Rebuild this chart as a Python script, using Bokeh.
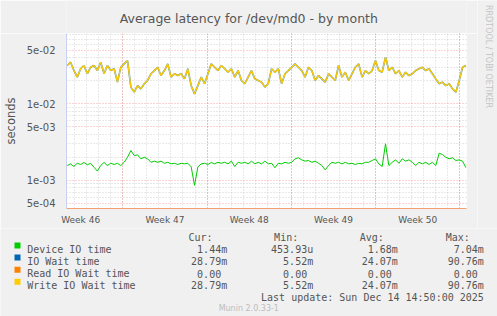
import math
from bokeh.plotting import figure
from bokeh.layouts import column, row
from bokeh.models import Range1d, FixedTicker, CustomJSTickFormatter
from bokeh.core.properties import value
from bokeh.embed import file_html
from bokeh.resources import INLINE

# ---------------- data ----------------
title_text = "Average latency for /dev/md0 - by month"
y_axis_label = "seconds"

# x axis: days since Mon 10 Nov 2025 00:00 (start of ISO week 46)
week_labels = ["Week 46", "Week 47", "Week 48", "Week 49", "Week 50"]
week_centers = [3.5, 10.5, 17.5, 24.5, 31.5]
week_starts = [7, 14, 21, 28, 35]
day_marks = list(range(3, 36))
x_start, x_end = 2.324, 35.547

# y axis (log)
y_major = [5e-4, 1e-3, 5e-3, 1e-2, 5e-2]
y_minor = [6e-4, 7e-4, 8e-4, 9e-4, 2e-3, 3e-3, 4e-3, 6e-3, 7e-3, 8e-3, 9e-3,
           2e-2, 3e-2, 4e-2, 6e-2, 7e-2, 8e-2]
y_low, y_high = 4.28e-4, 0.083

# samples (regular step), values in milliseconds
t_first = 2.382
t_step = 0.2783

device_io_ms = [
    1.56, 1.64, 1.515, 1.67, 1.61, 1.71, 1.595, 1.67, 1.48, 1.32,
    1.56, 1.71, 1.56, 1.67, 1.61, 1.67, 1.56, 1.72, 2.00, 2.45,
    2.11, 2.15, 1.91, 2.00, 1.91, 1.72, 1.78, 1.72, 1.78, 1.67,
    1.72, 1.64, 1.67, 1.61, 1.67, 1.64, 1.67, 1.50, 0.86, 1.50,
    1.64, 1.67, 1.61, 1.71, 1.64, 1.72, 1.67, 1.72, 1.64, 1.78,
    1.515, 1.72, 1.67, 1.72, 1.64, 1.78, 1.64, 1.72, 1.64, 1.78,
    1.64, 1.67, 1.46, 1.67, 1.64, 1.72, 1.67, 1.72, 1.91, 1.97,
    1.85, 1.78, 1.815, 1.72, 1.78, 1.67, 1.56, 1.37, 1.56, 1.72,
    1.67, 1.72, 1.64, 1.72, 1.64, 1.67, 1.61, 1.67, 1.64, 1.72,
    1.72, 1.815, 1.91, 1.64, 1.515, 3.0, 1.56, 1.72, 1.85, 1.67,
    1.91, 1.78, 1.85, 1.72, 1.56, 1.72, 1.64, 1.72, 1.61, 1.72,
    1.56, 2.26, 2.175, 2.0, 1.91, 1.97, 1.815, 1.85, 1.78, 1.46,
]

write_io_wait_ms = [
    31.7, 35.0, 27.2, 22.3, 28.7, 31.7, 24.7, 30.1, 31.7, 27.2,
    35.0, 24.7, 31.7, 27.2, 28.7, 19.2, 30.1, 33.3, 36.8, 16.5,
    14.2, 17.3, 15.7, 18.3, 20.2, 24.7, 27.2, 30.1, 23.4, 27.2,
    33.3, 22.3, 24.7, 23.4, 24.7, 21.2, 28.7, 17.3, 13.5, 17.3,
    22.3, 18.3, 24.7, 33.3, 30.1, 27.2, 31.7, 28.7, 25.9, 28.7,
    22.3, 27.2, 20.2, 18.3, 22.3, 27.2, 21.2, 20.2, 19.2, 16.5,
    18.3, 28.7, 25.9, 28.7, 18.3, 24.7, 27.2, 30.1, 33.3, 30.1,
    27.2, 22.3, 30.1, 27.2, 20.2, 23.4, 21.2, 19.2, 24.7, 22.3,
    20.2, 31.7, 22.3, 25.9, 20.2, 24.7, 30.1, 33.3, 22.3, 27.2,
    24.7, 27.2, 36.8, 27.2, 25.9, 40.7, 27.2, 30.1, 24.7, 27.2,
    22.3, 25.9, 23.4, 24.7, 27.2, 28.7, 30.1, 27.2, 28.7, 24.7,
    21.2, 18.3, 19.2, 17.3, 18.3, 15.7, 14.2, 20.2, 30.1, 31.7,
]
io_wait_ms = list(write_io_wait_ms)  # identical series (hidden below yellow)

legend_names = ["Device IO time", "IO Wait time", "Read IO Wait time", "Write IO Wait time"]
legend_colors = ["#00cc00", "#0066b3", "#ff8000", "#ffcc00"]
col_heads = ["Cur:", "Min:", "Avg:", "Max:"]
cur_vals = ["1.44m", "28.79m", "0.00 ", "28.79m"]
min_vals = ["453.93u", "5.52m", "0.00 ", "5.52m"]
avg_vals = ["1.68m", "24.07m", "0.00 ", "24.07m"]
max_vals = ["7.04m", "90.76m", "0.00 ", "90.76m"]
last_update = "Last update: Sun Dec 14 14:50:00 2025"
version_text = "Munin 2.0.33-1"
side_text = "RRDTOOL / TOBI OETIKER"

TXT = "#555555"
FONT = "DejaVu Sans"
MONO = "DejaVu Sans Mono"
BG = "#f0f0f0"

# page geometry (pixels of the 497x316 page)
PAGE_W, PAGE_H = 497, 316
SIDE_W = 20
MAIN_W = PAGE_W - SIDE_W      # 477
FR_L, FR_R, FR_T, FR_B = 66, 466, 33, 208   # chart frame on the page
TITLE_H = FR_T
PLOT_H = 195                  # 33 .. 228
LEG_TOP = TITLE_H + PLOT_H
LEG_H = PAGE_H - LEG_TOP


def strip(w, h, x0, y0, left=0, right=0):
    """A bare figure; data units = page pixels."""
    f = figure(width=w, height=h, output_backend="svg", toolbar_location=None,
               x_range=Range1d(x0 + left, x0 + w - right), y_range=Range1d(y0 + h, y0),
               x_axis_location=None, y_axis_location=None,
               min_border_left=left, min_border_right=right,
               min_border_top=0, min_border_bottom=0)
    f.grid.visible = False
    f.outline_line_color = None
    f.background_fill_color = BG
    f.border_fill_color = BG
    return f


# ---------------- title strip (frame aligned with the chart frame) ----------------
t_fig = strip(MAIN_W, TITLE_H, 0, 0, left=FR_L, right=MAIN_W - FR_R)
t_fig.text([248.3], [18.3], text=[title_text], text_align="center",
           text_baseline="alphabetic", text_font=value(FONT),
           text_font_size=value("12.5px"), text_color=TXT)

# ---------------- chart ----------------
p = figure(width=MAIN_W, height=PLOT_H, output_backend="svg", toolbar_location=None,
           x_range=Range1d(x_start, x_end), y_range=Range1d(y_low, y_high),
           y_axis_type="log",
           min_border_left=FR_L, min_border_right=MAIN_W - FR_R, min_border_top=0,
           min_border_bottom=PLOT_H - (FR_B - FR_T))
p.background_fill_color = "#ffffff"
p.border_fill_color = BG
p.outline_line_color = None

p.yaxis.ticker = FixedTicker(ticks=y_major, minor_ticks=y_minor)
p.yaxis.formatter = CustomJSTickFormatter(code="""
const s = tick.toExponential(0);
return s.replace(/e([+-])(\\d)$/, (m, a, b) => "e" + a + "0" + b);
""")
p.yaxis.major_label_text_font = FONT
p.yaxis.major_label_text_font_size = "10px"
p.yaxis.major_label_text_color = TXT
p.yaxis.major_label_standoff = 5
p.yaxis.major_tick_line_color = None
p.yaxis.minor_tick_line_color = None
p.yaxis.axis_line_color = "#c8d0f4"
p.yaxis.axis_label = y_axis_label
p.yaxis.axis_label_text_font = FONT
p.yaxis.axis_label_text_font_size = "11.5px"
p.yaxis.axis_label_text_font_style = "normal"
p.yaxis.axis_label_text_color = TXT
p.yaxis.axis_label_standoff = 6

p.xaxis.ticker = FixedTicker(ticks=week_centers, minor_ticks=[])
p.xaxis.formatter = CustomJSTickFormatter(args=dict(pos=week_centers, labels=week_labels), code="""
const i = pos.indexOf(tick);
return i >= 0 ? labels[i] : "";
""")
p.xaxis.major_label_text_font = FONT
p.xaxis.major_label_text_font_size = "9px"
p.xaxis.major_label_text_color = TXT
p.xaxis.major_label_standoff = 0
p.xaxis.major_tick_line_color = None
p.xaxis.minor_tick_line_color = None
p.xaxis.axis_line_color = "#f5a070"

p.xgrid.ticker = FixedTicker(ticks=week_starts, minor_ticks=day_marks)
for g in (p.xgrid, p.ygrid):
    g.grid_line_color = "#ff0000"
    g.grid_line_alpha = 0.35
    g.grid_line_dash = "1 2"
    g.minor_grid_line_color = "#808080"
    g.minor_grid_line_alpha = 0.35
    g.minor_grid_line_dash = "1 2"

n = len(device_io_ms)
t = [t_first + i * t_step for i in range(n)]
p.line(t, [v / 1000 for v in io_wait_ms], line_color=legend_colors[1], line_width=1.6,
       line_alpha=0.7)
p.line(t, [v / 1000 for v in write_io_wait_ms], line_color=legend_colors[3], line_width=1.3)
p.line(t, [v / 1000 for v in device_io_ms], line_color=legend_colors[0], line_width=1)

# ---------------- side strip ----------------
s_fig = strip(SIDE_W, TITLE_H + PLOT_H, MAIN_W, 0)
s_fig.text([488], [56], text=[side_text], angle=-math.pi / 2, text_align="center",
           text_baseline="middle", text_font=value(FONT), text_font_size=value("8px"),
           text_color="#c4c4c4")

# ---------------- legend / table ----------------
q = strip(PAGE_W, LEG_H, 0, LEG_TOP)
base0 = 236.9
row_gap = 12.08
head_base = base0
row_base = [base0 + row_gap * (k + 1) for k in range(4)]
upd_base = base0 + row_gap * 5
head_right = [212.0, 297.7, 383.3, 469.3]
col_right = [226.7, 312.7, 397.3, 483.3]
CH = 6.02

mono = dict(text_font=value(MONO), text_font_size=value("10px"), text_color=TXT,
            text_baseline="alphabetic")

q.scatter([17] * 4, [b - 4.0 for b in row_base], marker="square", size=6,
          fill_color=legend_colors, line_color=None)
q.text([26.7] * 4, row_base, text=legend_names, text_align="left", **mono)
q.text(head_right, [head_base] * 4, text=col_heads, text_align="right", **mono)

rx, ry, rt = [], [], []
for vals, xr in zip((cur_vals, min_vals, avg_vals, max_vals), col_right):
    for i, s in enumerate(vals):
        off = CH if s.endswith(" ") else 0.0
        rx.append(xr - off)
        ry.append(row_base[i])
        rt.append(s.rstrip())
rx.append(483.3)
ry.append(upd_base)
rt.append(last_update)
q.text(rx, ry, text=rt, text_align="right", **mono)
q.text([248.3], [308.1], text=[version_text], text_align="center",
       text_baseline="alphabetic", text_font=value(FONT), text_font_size=value("8px"),
       text_color="#bdbdbd")

layout = column(row(column(t_fig, p, spacing=0), s_fig, spacing=0), q, spacing=0)
open("out.html", "w").write(file_html(layout, INLINE))
